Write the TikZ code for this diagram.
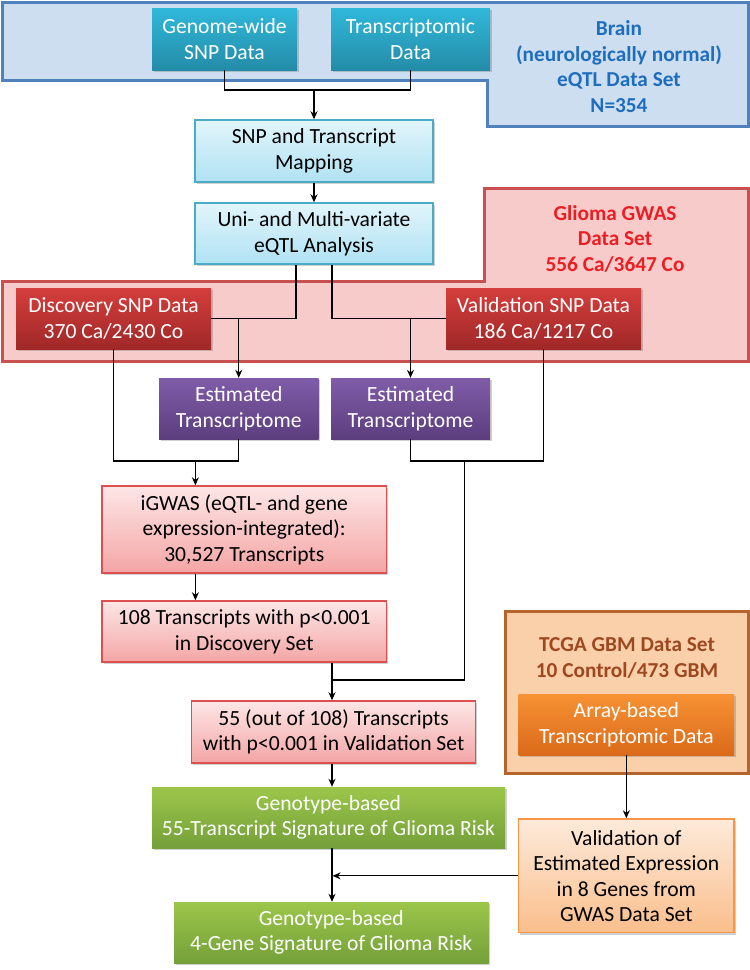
\documentclass[tikz,border=0pt]{standalone}
\usepackage{fontspec}
\setmainfont{Carlito}
\usetikzlibrary{arrows.meta,shadows}
\definecolor{blueFill}{RGB}{204,222,240}
\definecolor{blueLine}{RGB}{79,129,189}
\definecolor{blueText}{RGB}{31,110,190}
\definecolor{tealTop}{RGB}{48,184,218}
\definecolor{tealBot}{RGB}{36,140,168}
\definecolor{cyanTop}{RGB}{226,245,251}
\definecolor{cyanBot}{RGB}{176,226,243}
\definecolor{cyanLine}{RGB}{75,172,198}
\definecolor{pinkFill}{RGB}{248,203,203}
\definecolor{pinkLine}{RGB}{200,80,78}
\definecolor{redText}{RGB}{235,30,35}
\definecolor{redTop}{RGB}{212,62,60}
\definecolor{redBot}{RGB}{160,40,40}
\definecolor{purTop}{RGB}{128,92,168}
\definecolor{purBot}{RGB}{92,62,126}
\definecolor{lpTop}{RGB}{253,230,230}
\definecolor{lpBot}{RGB}{244,165,165}
\definecolor{lpLine}{RGB}{220,80,80}
\definecolor{grTop}{RGB}{156,198,74}
\definecolor{grBot}{RGB}{116,160,58}
\definecolor{peachFill}{RGB}{250,208,170}
\definecolor{brownLine}{RGB}{182,100,46}
\definecolor{brownText}{RGB}{158,72,32}
\definecolor{orTop}{RGB}{247,146,52}
\definecolor{orBot}{RGB}{218,106,26}
\definecolor{lpeTop}{RGB}{253,234,218}
\definecolor{lpeBot}{RGB}{250,190,140}
\definecolor{lpeLine}{RGB}{247,150,70}
\tikzset{
  x=1pt, y=-1pt,
  base/.style={rectangle, align=center, inner sep=0pt,
    font=\fontsize{21.6}{25.5}\selectfont,
    drop shadow={shadow xshift=1.5pt, shadow yshift=-2pt, opacity=0.3, fill=black!60}},
  tealbox/.style={base, top color=tealTop, bottom color=tealBot, text=white},
  cyanbox/.style={base, top color=cyanTop, bottom color=cyanBot, draw=cyanLine, line width=1.5pt},
  redbox/.style={base, top color=redTop, bottom color=redBot, text=white},
  purbox/.style={base, top color=purTop, bottom color=purBot, text=white},
  lpbox/.style={base, top color=lpTop, bottom color=lpBot, draw=lpLine, line width=1.5pt},
  grbox/.style={base, top color=grTop, bottom color=grBot, text=white},
  orbox/.style={base, top color=orTop, bottom color=orBot, text=white},
  lpebox/.style={base, top color=lpeTop, bottom color=lpeBot, draw=lpeLine, line width=1.5pt},
  label/.style={align=center, font=\fontsize{21.3}{25.5}\selectfont\bfseries, inner sep=0pt},
  conn/.style={line width=1.2pt, black},
  arr/.style={conn, -{Stealth[length=8pt,width=7pt]}},
}
\begin{document}
\begin{tikzpicture}
\useasboundingbox (0,0) rectangle (750,970);
\fill[white] (0,0) rectangle (750,970);
% regions
\draw[fill=blueFill, draw=blueLine, line width=3pt]
  (2,2) -- (748,2) -- (748,126) -- (487.5,126) -- (487.5,80) -- (2,80) -- cycle;
\draw[fill=pinkFill, draw=pinkLine, line width=3pt]
  (2,281) -- (484,281) -- (484,188) -- (748,188) -- (748,361) -- (2,361) -- cycle;
\draw[fill=peachFill, draw=brownLine, line width=3pt] (505,611) rectangle (748,773);
% region labels
\node[label, text=blueText] (brain) at (619,66.5) {Brain\\(neurologically normal)\\eQTL Data Set\\N=354};
\node[label, text=redText] (glioma) at (615,239) {Glioma GWAS\\Data Set\\556 Ca/3647 Co};
\node[label, text=brownText] (tcga) at (627,658) {TCGA GBM Data Set\\10 Control/473 GBM};
% boxes
\node[tealbox, minimum width=145, minimum height=62] (gsnp) at (224.5,39) {Genome-wide\\SNP Data};
\node[tealbox, minimum width=159, minimum height=62] (trx) at (410.5,39) {Transcriptomic\\Data};
\node[cyanbox, minimum width=238, minimum height=62] (map) at (314,151) {SNP and Transcript\\Mapping};
\node[cyanbox, minimum width=238, minimum height=61] (uni) at (314,233.5) {Uni- and Multi-variate\\eQTL Analysis};
\node[redbox, minimum width=195, minimum height=61] (disc) at (113.5,318.5) {Discovery SNP Data\\370 Ca/2430 Co};
\node[redbox, minimum width=195, minimum height=61] (val) at (543.5,318.5) {Validation SNP Data\\186 Ca/1217 Co};
\node[purbox, minimum width=159.5, minimum height=61] (et1) at (238.75,408.5) {Estimated\\Transcriptome};
\node[purbox, minimum width=159, minimum height=61] (et2) at (410.5,408.5) {Estimated\\Transcriptome};
\node[lpbox, minimum width=284.5, minimum height=87] (igwas) at (244.25,529.5) {iGWAS (eQTL- and gene\\expression-integrated):\\30,527 Transcripts};
\node[lpbox, minimum width=284.5, minimum height=61] (t108) at (244.25,631.5) {108 Transcripts with p<0.001\\in Discovery Set};
\node[lpbox, minimum width=284, minimum height=62] (t55) at (333.6,732) {55 (out of 108) Transcripts\\with p<0.001 in Validation Set};
\node[grbox, minimum width=353, minimum height=61] (g1) at (328.5,817.5) {Genotype-based\\55-Transcript Signature of Glioma Risk};
\node[grbox, minimum width=314.6, minimum height=61] (g2) at (331.3,932.5) {Genotype-based\\4-Gene Signature of Glioma Risk};
\node[orbox, minimum width=215.3, minimum height=61] (arb) at (626.35,724.5) {Array-based\\Transcriptomic Data};
\node[lpebox, minimum width=215.3, minimum height=113.7] (valx) at (626.35,875.85) {Validation of\\Estimated Expression\\in 8 Genes from\\GWAS Data Set};
% junction coordinates
\coordinate (m1) at (314,90);
\coordinate (c1) at (195.4,461);
\coordinate (c2) at (464.6,461);
\coordinate (c3) at (332,680);
% connectors
\draw[conn] (gsnp.south) |- (m1) -| (trx.south);
\draw[arr] (m1) -- (map.north);
\draw[arr] (map.south) -- (uni.north);
\draw[conn] ([xshift=-18pt]uni.south) |- (disc.east);
\draw[conn] ([xshift=18pt]uni.south) |- (val.west);
\draw[arr] (et1.north |- disc.east) -- (et1.north);
\draw[arr] (et2.north |- val.west) -- (et2.north);
\draw[conn] (disc.south) |- (c1) -| (et1.south);
\draw[arr] (c1) -- (c1 |- igwas.north);
\draw[conn] (et2.south) |- (c2) -| (val.south);
\draw[arr] (c1 |- igwas.south) -- (c1 |- t108.north);
\draw[conn] (c2) |- (c3);
\draw[arr] (c3 |- t108.south) -- (c3 |- t55.north);
\draw[arr] (c3 |- t55.south) -- (c3 |- g1.north);
\draw[arr] (c3 |- g1.south) -- (c3 |- g2.north);
\draw[arr] (arb.south) -- (valx.north);
\draw[arr] (valx.west) -- ([xshift=0.6pt]c3 |- valx.west);
\end{tikzpicture}
\end{document}
